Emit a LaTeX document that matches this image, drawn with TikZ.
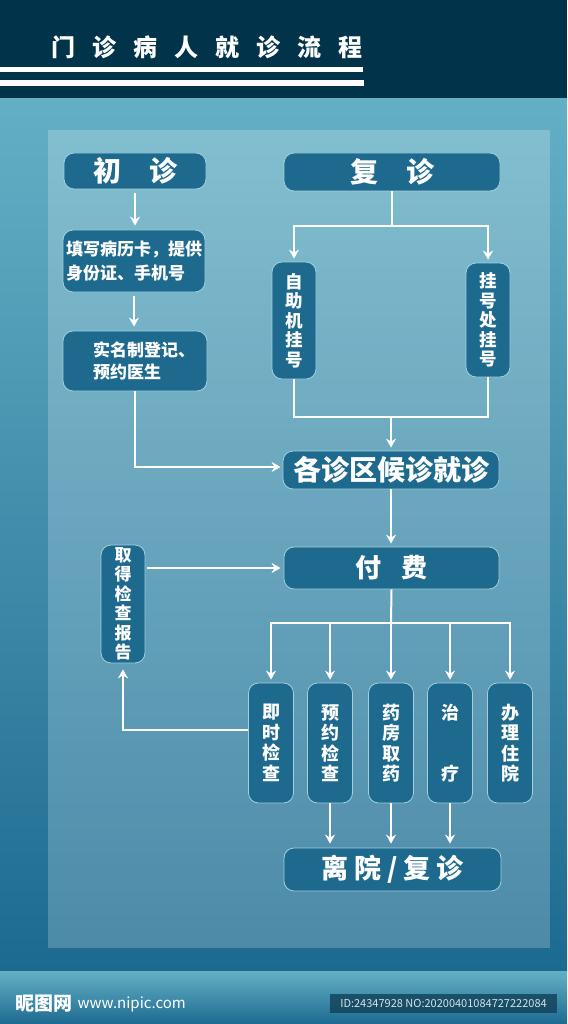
\documentclass[tikz,border=0pt]{standalone}
\usepackage{fontspec}
\newfontfamily\cjk{Noto Sans CJK SC}
\usetikzlibrary{arrows.meta,calc}
\definecolor{headnavy}{HTML}{01344A}
\definecolor{bgtop}{HTML}{63B0C5}
\definecolor{bgbot}{HTML}{1D6A91}
\definecolor{boxblue}{HTML}{1E6A8E}
\definecolor{boxedge}{HTML}{A3D0DC}
\definecolor{idgray}{HTML}{D3E3EA}
\tikzstyle{stepbox}=[draw=boxedge, line width=0.8pt, fill=boxblue, rounded corners=10pt, text=white, inner sep=0pt, align=center, font=\cjk\bfseries\fontsize{17}{20}\selectfont]
\tikzstyle{bigbox}=[stepbox, font=\cjk\bfseries\fontsize{28}{30}\selectfont]
\tikzstyle{tallbox}=[stepbox, minimum width=44pt, font=\cjk\bfseries\fontsize{17.5}{19.5}\selectfont]
\tikzstyle{itembox}=[stepbox, minimum width=45pt, minimum height=120pt, font=\cjk\bfseries\fontsize{18}{20.5}\selectfont]
\tikzstyle{titlechar}=[text=white, inner sep=0pt, font=\cjk\bfseries\fontsize{24}{26}\selectfont]
\tikzstyle{wire}=[white, line width=2pt]
\tikzstyle{arr}=[wire, -{Stealth[length=9pt,width=10pt,inset=3pt]}]

\begin{document}
\begin{tikzpicture}[x=1pt,y=-1pt]
	\useasboundingbox (0,0) rectangle (567,1024);
	% background
	\shade[top color=bgtop, bottom color=bgbot] (0,98) rectangle (567,971);
	\fill[headnavy] (0,0) rectangle (567,98);
	\shade[top color=bgtop, bottom color=bgbot] (0,971) rectangle (567,1024);
	\fill[white, opacity=0.21] (48,130) rectangle (550,948);
	% title
	\foreach \c [count=\i from 0] in {门,诊,病,人,就,诊,流,程}
		\node[titlechar] (t\i) at (63+41*\i,47.5) {\c};
	\fill[white] (0,67) rectangle (363,72);
	\fill[white] (0,80) rectangle (364,86);
	% steps
	\node[bigbox, minimum width=142pt, minimum height=36pt] (chu) at (135,171) {初\hspace{1em}诊};
	\node[bigbox, minimum width=216pt, minimum height=38pt] (fu) at (392,172) {复\hspace{1em}诊};
	\node[stepbox, align=left, minimum width=142pt, minimum height=62pt, font=\cjk\bfseries\fontsize{17}{24}\selectfont] (tian) at (134,261) {填写病历卡，提供\\身份证、手机号};
	\node[stepbox, align=left, minimum width=144pt, minimum height=60pt, font=\cjk\bfseries\fontsize{17}{22}\selectfont] (shiming) at (135,361) {\hspace*{18pt}实名制登记、\\\hspace*{18pt}预约医生};
	\node[tallbox, minimum height=117pt] (zizhu) at (294,320.5) {自\\助\\机\\挂\\号};
	\node[tallbox, minimum height=114pt] (guahao) at (488,320) {挂\\号\\处\\挂\\号};
	\node[bigbox, minimum width=216pt, minimum height=38pt] (houzhen) at (391,470) {各诊区候诊就诊};
	\node[bigbox, minimum width=215pt, minimum height=42pt, font=\cjk\bfseries\fontsize{26}{28}\selectfont] (fufei) at (391.5,568) {付\hspace{0.8em}费};
	\node[tallbox, minimum height=118pt, font=\cjk\bfseries\fontsize{17}{19.5}\selectfont] (baogao) at (123,604) {取\\得\\检\\查\\报\\告};
	\node[itembox] (jishi) at (271,743) {即\\时\\检\\查};
	\node[itembox] (yuyue) at (330,743) {预\\约\\检\\查};
	\node[itembox] (yaofang) at (391,743) {药\\房\\取\\药};
	\node[itembox] (zhiliao) at (450,743) {治\\[41pt]疗};
	\node[itembox] (zhuyuan) at (510,743) {办\\理\\住\\院};
	\node[bigbox, minimum width=217pt, minimum height=43pt, font=\cjk\bfseries\fontsize{27}{30}\selectfont] (liyuan) at (392.5,869.5) {离\hspace{6pt}院\hspace{6pt}/\hspace{6pt}复\hspace{6pt}诊};
	% first visit
	\draw[arr, shorten <=4pt, shorten >=4pt] (chu) -- (chu |- tian.north);
	\draw[arr, shorten <=4pt, shorten >=4pt] (tian) -- (tian |- shiming.north);
	\draw[arr, shorten >=2pt] (shiming.south) |- ([yshift=3pt]houzhen.west);
	% return visit
	\coordinate (fsplit) at (392,226);
	\draw[wire] (fu.south) -- (fsplit);
	\draw[arr, shorten >=3pt] (fsplit) -| (zizhu.north);
	\draw[arr, shorten >=3pt] (fsplit) -| (guahao.north);
	\coordinate (fjoin) at (391,417);
	\draw[wire] (zizhu.south) |- (fjoin) -| (guahao.south);
	\draw[arr, shorten >=3pt] (fjoin) -- (houzhen.north);
	\draw[arr, shorten >=3pt] (houzhen.south) -- (houzhen.south |- fufei.north);
	% payment
	\coordinate (psplit) at (391,623);
	\draw[wire] (fufei.south) -- (psplit);
	\foreach \n in {jishi,yuyue,yaofang,zhiliao,zhuyuan}
		\draw[arr, shorten >=3pt] (psplit) -| (\n.north);
	\foreach \n in {yuyue,yaofang,zhiliao}
		\draw[arr, shorten >=4pt] (\n.south) -- (\n.south |- liyuan.north);
	\draw[arr, shorten >=6pt] ([yshift=13pt]jishi.west) -| (baogao.south);
	\draw[arr, shorten <=2pt, shorten >=3pt] (baogao.east |- fufei.west) -- (fufei.west);
	% footer
	\node[text=white, anchor=west, inner sep=0pt, font=\cjk\bfseries\fontsize{19}{20}\selectfont] (logo) at (15,1004) {昵图网};
	\node[text=white, anchor=west, inner sep=0pt, font=\cjk\fontsize{15}{16}\selectfont] (site) at (logo.east) {\hspace{5pt}www.nipic.com};
	\node[fill=black!40!bgbot, fill opacity=0.8, text opacity=1, text=idgray, minimum width=227pt, minimum height=19pt, inner sep=0pt, font=\cjk\fontsize{11}{12}\selectfont] (idbox) at (443.5,1003.5) {ID:24347928 NO:20200401084727222084};
\end{tikzpicture}
\end{document}
